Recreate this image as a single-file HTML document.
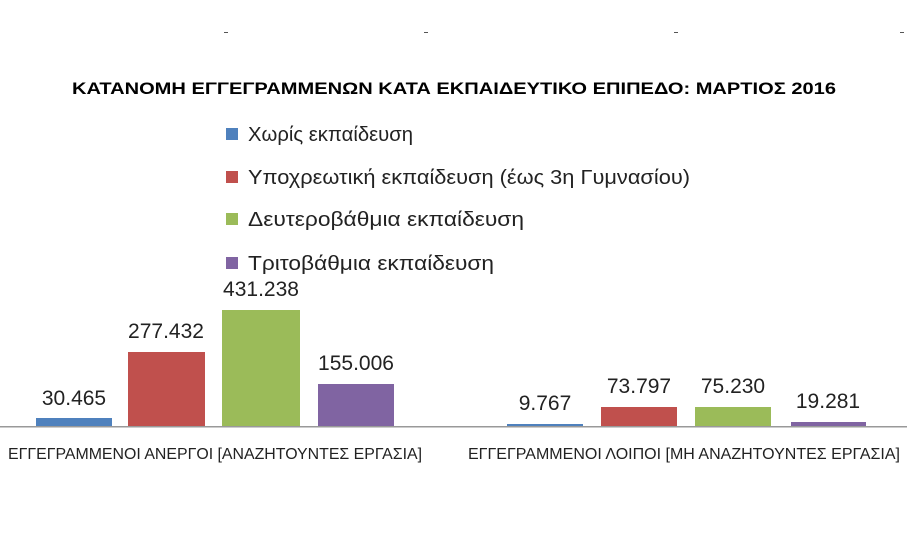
<!DOCTYPE html>
<html><head><meta charset="utf-8"><style>body{margin:0;background:#fff}</style></head><body>
<svg width="907" height="536" xmlns="http://www.w3.org/2000/svg" font-family="Liberation Sans, DejaVu Sans, sans-serif">
<rect width="907" height="536" fill="#fff"/>
<g fill="#555"><rect x="224" y="32" width="4" height="1"/><rect x="424" y="32" width="4" height="1"/><rect x="674" y="32" width="4" height="1"/><rect x="900" y="32" width="4" height="1"/></g>
<text x="454" y="94" text-anchor="middle" font-size="17" font-weight="bold" textLength="764" lengthAdjust="spacingAndGlyphs">ΚΑΤΑΝΟΜΗ ΕΓΓΕΓΡΑΜΜΕΝΩΝ ΚΑΤΑ ΕΚΠΑΙΔΕΥΤΙΚΟ ΕΠΙΠΕΔΟ: ΜΑΡΤΙΟΣ 2016</text>
<g font-size="20" fill="#222">
<rect x="226" y="128" width="12" height="12" fill="#4f81bd"/><text x="248" y="141" textLength="165" lengthAdjust="spacingAndGlyphs">Χωρίς εκπαίδευση</text>
<rect x="226" y="171" width="12" height="12" fill="#c0504d"/><text x="248" y="184" textLength="442" lengthAdjust="spacingAndGlyphs">Υποχρεωτική εκπαίδευση (έως 3η Γυμνασίου)</text>
<rect x="226" y="213" width="12" height="12" fill="#9bbb59"/><text x="248" y="226" textLength="276" lengthAdjust="spacingAndGlyphs">Δευτεροβάθμια εκπαίδευση</text>
<rect x="226" y="257" width="12" height="12" fill="#8064a2"/><text x="248" y="270" textLength="246" lengthAdjust="spacingAndGlyphs">Τριτοβάθμια εκπαίδευση</text>
</g>
<rect x="36" y="418" width="76" height="9" fill="#4f81bd"/>
<rect x="128" y="352" width="77" height="75" fill="#c0504d"/>
<rect x="222" y="310" width="78" height="117" fill="#9bbb59"/>
<rect x="318" y="384" width="76" height="43" fill="#8064a2"/>
<rect x="507" y="424" width="76" height="3" fill="#4f81bd"/>
<rect x="601" y="407" width="76" height="20" fill="#c0504d"/>
<rect x="695" y="407" width="76" height="20" fill="#9bbb59"/>
<rect x="791" y="422" width="75" height="5" fill="#8064a2"/>
<rect x="0" y="426" width="907" height="1.5" fill="#999"/>
<g font-size="21" fill="#222" text-anchor="middle">
<text x="74" y="405">30.465</text>
<text x="166" y="338">277.432</text>
<text x="261" y="296">431.238</text>
<text x="356" y="370">155.006</text>
<text x="545" y="410">9.767</text>
<text x="639" y="393">73.797</text>
<text x="733" y="393">75.230</text>
<text x="828" y="408">19.281</text>
</g>
<g font-size="16" fill="#222">
<text x="8" y="459" textLength="414" lengthAdjust="spacingAndGlyphs">ΕΓΓΕΓΡΑΜΜΕΝΟΙ ΑΝΕΡΓΟΙ [ΑΝΑΖΗΤΟΥΝΤΕΣ ΕΡΓΑΣΙΑ]</text>
<text x="468" y="459" textLength="432" lengthAdjust="spacingAndGlyphs">ΕΓΓΕΓΡΑΜΜΕΝΟΙ ΛΟΙΠΟΙ [ΜΗ ΑΝΑΖΗΤΟΥΝΤΕΣ ΕΡΓΑΣΙΑ]</text>
</g>
</svg>
</body></html>
